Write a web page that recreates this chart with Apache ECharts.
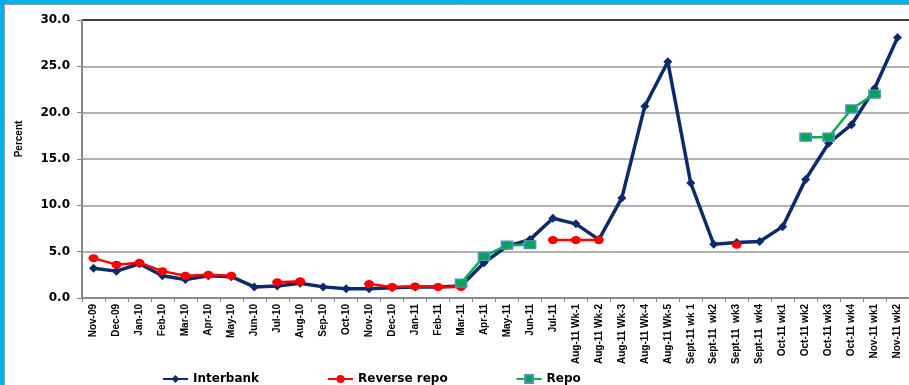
<!DOCTYPE html>
<html>
<head>
<meta charset="utf-8">
<script src="https://cdn.jsdelivr.net/npm/echarts@6/dist/echarts.min.js"></script>
<style>
html,body{margin:0;padding:0;background:#fff;}
#c{width:909px;height:385px;}
</style>
</head>
<body>
<div id="c"></div>
<script>
var categories = ['Nov-09','Dec-09','Jan-10','Feb-10','Mar-10','Apr-10','May-10','Jun-10','Jul-10','Aug-10','Sep-10','Oct-10','Nov-10','Dec-10','Jan-11','Feb-11','Mar-11','Apr-11','May-11','Jun-11','Jul-11','Aug-11 Wk-1','Aug-11 Wk-2','Aug-11 Wk-3','Aug-11 Wk-4','Aug-11 Wk-5','Sept-11 wk 1','Sept-11  wk2','Sept-11  wk3','Sept-11  wk4','Oct-11 wk1','Oct-11 wk2','Oct-11 wk3','Oct-11 wk4','Nov-11 wk1','Nov-11 wk2'];
var interbank = [3.2,2.9,3.7,2.4,2.0,2.4,2.3,1.2,1.3,1.6,1.2,1.0,1.0,1.1,1.2,1.2,1.3,3.8,5.6,6.3,8.6,8.0,6.3,10.8,20.7,25.5,12.4,5.8,6.0,6.1,7.7,12.8,16.7,18.7,22.6,28.1];
var reverseRepo = [4.3,3.6,3.8,2.9,2.4,2.5,2.4,null,1.7,1.8,null,null,1.5,1.2,1.25,1.2,1.2,null,null,null,6.25,6.25,6.25,null,null,null,null,null,5.75,null,null,null,null,null,null,null];
var repo = [null,null,null,null,null,null,null,null,null,null,null,null,null,null,null,null,1.6,4.5,5.7,5.75,null,null,null,null,null,null,null,null,null,null,null,17.35,17.35,20.4,22.0,null];
var yTicks = [0,5,10,15,20,25,30];

var chart = echarts.init(document.getElementById('c'));
chart.setOption({
  backgroundColor:'#ffffff',
  animation:false,
  graphic:[
    {type:'rect',shape:{x:0,y:0,width:909,height:4},style:{fill:'#00b0f0'},silent:true},
    {type:'rect',shape:{x:0,y:0,width:4,height:385},style:{fill:'#00b0f0'},silent:true},
    {type:'line',shape:{x1:4,y1:4.5,x2:909,y2:4.5},style:{stroke:'#999',lineWidth:1},silent:true},
    {type:'line',shape:{x1:4.5,y1:4,x2:4.5,y2:385},style:{stroke:'#999',lineWidth:1},silent:true},
    {type:'text',x:19,y:139,rotation:Math.PI/2,silent:true,
      style:{text:'Percent',align:'center',verticalAlign:'middle',fill:'#000',
        font:'bold 10px "Liberation Sans"'}}
  ],
  grid:{left:82,top:20,right:-5,bottom:87,containLabel:false},
  legend:{
    left:157, top:368, itemGap:68, itemWidth:25, itemHeight:10,
    textStyle:{fontFamily:'DejaVu Sans',fontWeight:'bold',fontSize:12,color:'#000'},
    data:['Interbank','Reverse repo','Repo']
  },
  xAxis:{
    type:'category', data:categories, boundaryGap:true,
    axisLine:{lineStyle:{color:'#888',width:2}},
    axisTick:{show:true,length:4,lineStyle:{color:'#888',width:1}},
    axisLabel:{interval:0,rotate:90,margin:6,fontFamily:'Liberation Sans',fontWeight:'bold',fontSize:10,color:'#000'},
    splitLine:{show:false}
  },
  yAxis:{
    type:'value', min:0, max:30, interval:5,
    axisLine:{show:true,lineStyle:{color:'#888',width:2}},
    axisTick:{show:true,length:5,lineStyle:{color:'#888',width:1}},
    axisLabel:{margin:12,fontFamily:'DejaVu Sans',fontWeight:'bold',fontSize:12,color:'#000',
      formatter:function(v){return v.toFixed(1);}},
    splitLine:{show:true,lineStyle:{color:['#999','#999','#999','#999','#999','#999','#000'],width:1.5}}
  },
  series:[
    {name:'Interbank',type:'line',data:interbank,connectNulls:false,
      symbol:'diamond',symbolSize:[9,9],showSymbol:true,
      lineStyle:{color:'#0d2b6b',width:3.5},itemStyle:{color:'#0d2b6b'}},
    {name:'Reverse repo',type:'line',data:reverseRepo,connectNulls:false,
      symbol:'circle',symbolSize:[10,8],showSymbol:true,
      lineStyle:{color:'#ff0000',width:2.5},itemStyle:{color:'#ff0000'}},
    {name:'Repo',type:'line',data:repo,connectNulls:false,
      symbol:'rect',symbolSize:[11,8],showSymbol:true,
      lineStyle:{color:'#00b050',width:2.5},itemStyle:{color:'#00a651',borderColor:'#4f8fbd',borderWidth:1.5}}
  ]
});
</script>
</body>
</html>
